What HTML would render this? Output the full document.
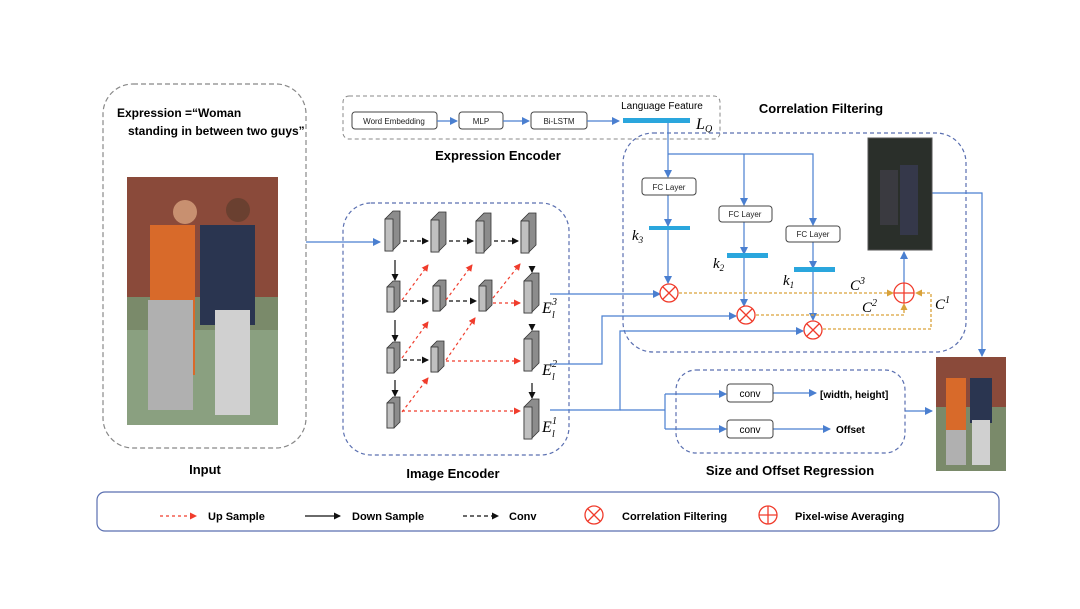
<!DOCTYPE html>
<html><head><meta charset="utf-8"><style>
body{margin:0;background:#fff;}
svg{display:block;font-family:"Liberation Sans",Arial,sans-serif;}
</style></head><body>
<svg width="1080" height="609" viewBox="0 0 1080 609" xmlns="http://www.w3.org/2000/svg">
<defs>
<marker id="ab" markerWidth="8" markerHeight="8" refX="7" refY="4" orient="auto" markerUnits="userSpaceOnUse"><path d="M0,0 L8,4 L0,8z" fill="#4a7fd0"/></marker>
<marker id="ak" markerWidth="7" markerHeight="7" refX="6" refY="3.5" orient="auto" markerUnits="userSpaceOnUse"><path d="M0,0 L7,3.5 L0,7z" fill="#111"/></marker>
<marker id="ar" markerWidth="7" markerHeight="7" refX="6" refY="3.5" orient="auto" markerUnits="userSpaceOnUse"><path d="M0,0 L7,3.5 L0,7z" fill="#f03c2c"/></marker>
<marker id="ao" markerWidth="7" markerHeight="7" refX="6" refY="3.5" orient="auto" markerUnits="userSpaceOnUse"><path d="M0,0 L7,3.5 L0,7z" fill="#d9a23a"/></marker>
<g id="blk"><path d="M0,8 L8,0 L15,0 L15,32 L7,40 L0,40z" fill="#8c8c8c" stroke="#333" stroke-width="0.8"/><rect x="0" y="8" width="8" height="32" fill="#c0c0c0" stroke="#333" stroke-width="0.8"/></g>
<g id="blks"><path d="M0,6 L6,0 L13,0 L13,25 L7,31 L0,31z" fill="#8c8c8c" stroke="#333" stroke-width="0.8"/><rect x="0" y="6" width="7" height="25" fill="#c0c0c0" stroke="#333" stroke-width="0.8"/></g>
</defs>

<!-- Input -->
<rect x="103" y="84" width="203" height="364" rx="30" fill="none" stroke="#888" stroke-width="1.2" stroke-dasharray="5,3"/>
<text x="117" y="117" font-size="12" font-weight="bold">Expression =“Woman</text>
<text x="128" y="135" font-size="12" font-weight="bold">standing in between two guys”</text>
<rect x="127" y="177" width="151" height="248" fill="#7a8a6a"/>
<rect x="127" y="177" width="151" height="120" fill="#8a4a3a"/>
<rect x="127" y="330" width="151" height="95" fill="#8aa080"/>
<rect x="150" y="225" width="45" height="150" fill="#d86a2a"/>
<rect x="200" y="225" width="55" height="100" fill="#2a3550"/>
<rect x="148" y="300" width="45" height="110" fill="#b0b0b0"/>
<rect x="215" y="310" width="35" height="105" fill="#d0d0d0"/>
<circle cx="185" cy="212" r="12" fill="#c89070"/><circle cx="238" cy="210" r="12" fill="#6a4030"/>
<text x="205" y="474" font-size="13" font-weight="bold" text-anchor="middle">Input</text>
<line x1="306" y1="242" x2="380" y2="242" stroke="#4a7fd0" stroke-width="1.3" marker-end="url(#ab)"/>

<!-- Expression encoder -->
<rect x="343" y="96" width="377" height="43" rx="6" fill="none" stroke="#888" stroke-width="1" stroke-dasharray="4,3"/>
<g font-size="8" text-anchor="middle" fill="#222">
<rect x="352" y="112" width="85" height="17" rx="3" fill="#fff" stroke="#444"/><text x="394" y="124">Word Embedding</text>
<rect x="459" y="112" width="44" height="17" rx="3" fill="#fff" stroke="#444"/><text x="481" y="124">MLP</text>
<rect x="531" y="112" width="56" height="17" rx="3" fill="#fff" stroke="#444"/><text x="559" y="124">Bi-LSTM</text>
</g>
<g stroke="#4a7fd0" stroke-width="1.2">
<line x1="437" y1="121" x2="457" y2="121" marker-end="url(#ab)"/>
<line x1="503" y1="121" x2="529" y2="121" marker-end="url(#ab)"/>
<line x1="587" y1="121" x2="619" y2="121" marker-end="url(#ab)"/>
</g>
<rect x="623" y="118" width="67" height="5" fill="#2aa6dd"/>
<text x="662" y="109" font-size="10" text-anchor="middle">Language Feature</text>
<text x="696" y="129" font-size="16" font-style="italic" font-family="Liberation Serif,serif">L</text>
<text x="705" y="132" font-size="10" font-style="italic" font-family="Liberation Serif,serif">Q</text>
<text x="498" y="160" font-size="13" font-weight="bold" text-anchor="middle">Expression Encoder</text>

<!-- Image encoder -->
<rect x="343" y="203" width="226" height="252" rx="28" fill="none" stroke="#5a6fb0" stroke-width="1.2" stroke-dasharray="4,3"/>
<use href="#blk" x="385" y="211"/><use href="#blk" x="431" y="212"/><use href="#blk" x="476" y="213"/><use href="#blk" x="521" y="213"/>
<use href="#blks" x="387" y="281"/><use href="#blks" x="433" y="280"/><use href="#blks" x="479" y="280"/>
<use href="#blk" x="524" y="273"/>
<use href="#blks" x="387" y="342"/><use href="#blks" x="431" y="341"/>
<use href="#blk" x="524" y="331"/>
<use href="#blks" x="387" y="397"/>
<use href="#blk" x="524" y="399"/>
<g stroke="#111" stroke-width="1.2" stroke-dasharray="4,3">
<line x1="403" y1="241" x2="428" y2="241" marker-end="url(#ak)"/>
<line x1="449" y1="241" x2="473" y2="241" marker-end="url(#ak)"/>
<line x1="494" y1="241" x2="518" y2="241" marker-end="url(#ak)"/>
<line x1="403" y1="301" x2="428" y2="301" marker-end="url(#ak)"/>
<line x1="449" y1="301" x2="476" y2="301" marker-end="url(#ak)"/>
<line x1="403" y1="360" x2="428" y2="360" marker-end="url(#ak)"/>
</g>
<g stroke="#111" stroke-width="1.2">
<line x1="395" y1="260" x2="395" y2="280" marker-end="url(#ak)"/>
<line x1="395" y1="320" x2="395" y2="341" marker-end="url(#ak)"/>
<line x1="395" y1="380" x2="395" y2="396" marker-end="url(#ak)"/>
<line x1="532" y1="266" x2="532" y2="272" marker-end="url(#ak)"/>
<line x1="532" y1="324" x2="532" y2="330" marker-end="url(#ak)"/>
<line x1="532" y1="383" x2="532" y2="398" marker-end="url(#ak)"/>
</g>
<g stroke="#f03c2c" stroke-width="1.2" stroke-dasharray="3,3">
<line x1="402" y1="300" x2="428" y2="265" marker-end="url(#ar)"/>
<line x1="446" y1="300" x2="472" y2="265" marker-end="url(#ar)"/>
<line x1="493" y1="298" x2="520" y2="264" marker-end="url(#ar)"/>
<line x1="402" y1="358" x2="428" y2="322" marker-end="url(#ar)"/>
<line x1="446" y1="360" x2="475" y2="318" marker-end="url(#ar)"/>
<line x1="402" y1="412" x2="428" y2="378" marker-end="url(#ar)"/>
<line x1="493" y1="303" x2="520" y2="303" marker-end="url(#ar)"/>
<line x1="446" y1="361" x2="520" y2="361" marker-end="url(#ar)"/>
<line x1="402" y1="411" x2="520" y2="411" marker-end="url(#ar)"/>
</g>
<g font-family="Liberation Serif,serif" font-style="italic">
<text x="542" y="313" font-size="16">E</text><text x="552" y="318" font-size="10">l</text><text x="552" y="305" font-size="10">3</text>
<text x="542" y="375" font-size="16">E</text><text x="552" y="380" font-size="10">l</text><text x="552" y="367" font-size="10">2</text>
<text x="542" y="432" font-size="16">E</text><text x="552" y="437" font-size="10">l</text><text x="552" y="424" font-size="10">1</text>
</g>
<text x="453" y="478" font-size="13" font-weight="bold" text-anchor="middle">Image Encoder</text>

<!-- Correlation filtering -->
<rect x="623" y="133" width="343" height="219" rx="30" fill="none" stroke="#5a6fb0" stroke-width="1.2" stroke-dasharray="4,3"/>
<text x="821" y="113" font-size="13" font-weight="bold" text-anchor="middle">Correlation Filtering</text>
<g stroke="#4a7fd0" stroke-width="1.2" fill="none">
<line x1="668" y1="123" x2="668" y2="177" marker-end="url(#ab)"/>
<polyline points="668,154 813,154 813,225" marker-end="url(#ab)"/>
<line x1="744" y1="154" x2="744" y2="205" marker-end="url(#ab)"/>
<line x1="668" y1="195" x2="668" y2="226" marker-end="url(#ab)"/>
<line x1="668" y1="229" x2="668" y2="283" marker-end="url(#ab)"/>
<line x1="744" y1="222" x2="744" y2="254" marker-end="url(#ab)"/>
<line x1="744" y1="258" x2="744" y2="306" marker-end="url(#ab)"/>
<line x1="813" y1="242" x2="813" y2="268" marker-end="url(#ab)"/>
<line x1="813" y1="272" x2="813" y2="320" marker-end="url(#ab)"/>
<line x1="904" y1="284" x2="904" y2="252" marker-end="url(#ab)"/>
<polyline points="932,193 982,193 982,356" marker-end="url(#ab)"/>
<line x1="550" y1="294" x2="660" y2="294" marker-end="url(#ab)"/>
<polyline points="550,364 602,364 602,316 736,316" marker-end="url(#ab)"/>
<polyline points="550,410 620,410 620,331 803,331" marker-end="url(#ab)"/>
<polyline points="620,410 665,410"/>
<polyline points="665,394 665,429"/>
<line x1="665" y1="394" x2="726" y2="394" marker-end="url(#ab)"/>
<line x1="665" y1="429" x2="726" y2="429" marker-end="url(#ab)"/>
<line x1="773" y1="393" x2="816" y2="393" marker-end="url(#ab)"/>
<line x1="773" y1="429" x2="830" y2="429" marker-end="url(#ab)"/>
<line x1="905" y1="411" x2="932" y2="411" marker-end="url(#ab)"/>
</g>
<g font-size="8" text-anchor="middle" fill="#222">
<rect x="642" y="178" width="54" height="17" rx="3" fill="#fff" stroke="#444"/><text x="669" y="190">FC Layer</text>
<rect x="719" y="206" width="53" height="16" rx="3" fill="#fff" stroke="#444"/><text x="745" y="217">FC Layer</text>
<rect x="786" y="226" width="54" height="16" rx="3" fill="#fff" stroke="#444"/><text x="813" y="237">FC Layer</text>
</g>
<rect x="649" y="226" width="41" height="4" fill="#2aa6dd"/>
<rect x="727" y="253" width="41" height="5" fill="#2aa6dd"/>
<rect x="794" y="267" width="41" height="5" fill="#2aa6dd"/>
<g font-family="Liberation Serif,serif" font-style="italic" font-size="15">
<text x="632" y="240">k<tspan font-size="9" dy="3">3</tspan></text>
<text x="713" y="268">k<tspan font-size="9" dy="3">2</tspan></text>
<text x="783" y="285">k<tspan font-size="9" dy="3">1</tspan></text>
<text x="850" y="290">C<tspan font-size="10" dy="-6">3</tspan></text>
<text x="862" y="312">C<tspan font-size="10" dy="-6">2</tspan></text>
<text x="935" y="309">C<tspan font-size="10" dy="-6">1</tspan></text>
</g>
<g stroke="#d9a23a" stroke-width="1.3" stroke-dasharray="3,2" fill="none">
<line x1="679" y1="293" x2="893" y2="293" marker-end="url(#ao)"/>
<polyline points="756,315 904,315 904,304" marker-end="url(#ao)"/>
<polyline points="823,329 931,329 931,293 916,293" marker-end="url(#ao)"/>
</g>
<g stroke="#f03c2c" stroke-width="1.3" fill="#fff">
<circle cx="669" cy="293" r="9"/><path d="M663,287 L675,299 M675,287 L663,299"/>
<circle cx="746" cy="315" r="9"/><path d="M740,309 L752,321 M752,309 L740,321"/>
<circle cx="813" cy="330" r="9"/><path d="M807,324 L819,336 M819,324 L807,336"/>
<circle cx="904" cy="293" r="10"/><path d="M894,293 L914,293 M904,283 L904,303"/>
</g>
<rect x="868" y="138" width="64" height="112" fill="#2a2f2a" stroke="#555"/>
<rect x="880" y="170" width="18" height="55" fill="#3a3a40"/><rect x="900" y="165" width="18" height="70" fill="#35384a"/>

<!-- Size and offset -->
<rect x="676" y="370" width="229" height="83" rx="20" fill="none" stroke="#5a6fb0" stroke-width="1.2" stroke-dasharray="4,3"/>
<g font-size="10" text-anchor="middle">
<rect x="727" y="384" width="46" height="18" rx="3" fill="#fff" stroke="#444"/><text x="750" y="397">conv</text>
<rect x="727" y="420" width="46" height="18" rx="3" fill="#fff" stroke="#444"/><text x="750" y="433">conv</text>
</g>
<text x="820" y="398" font-size="10" font-weight="bold">[width, height]</text>
<text x="836" y="433" font-size="10" font-weight="bold">Offset</text>
<text x="790" y="475" font-size="13" font-weight="bold" text-anchor="middle">Size and Offset Regression</text>
<rect x="936" y="357" width="70" height="114" fill="#7a8a6a"/>
<rect x="936" y="357" width="70" height="50" fill="#8a4a3a"/>
<rect x="946" y="378" width="20" height="60" fill="#d86a2a"/><rect x="970" y="378" width="22" height="45" fill="#2a3550"/>
<rect x="946" y="430" width="20" height="35" fill="#b0b0b0"/><rect x="972" y="420" width="18" height="45" fill="#d0d0d0"/>

<!-- Legend -->
<rect x="97" y="492" width="902" height="39" rx="8" fill="none" stroke="#5a6fb0" stroke-width="1.2"/>
<g font-size="11" font-weight="bold">
<line x1="160" y1="516" x2="196" y2="516" stroke="#f03c2c" stroke-width="1.2" stroke-dasharray="3,3" marker-end="url(#ar)"/>
<text x="208" y="520">Up Sample</text>
<line x1="305" y1="516" x2="340" y2="516" stroke="#111" stroke-width="1.2" marker-end="url(#ak)"/>
<text x="352" y="520">Down Sample</text>
<line x1="463" y1="516" x2="498" y2="516" stroke="#111" stroke-width="1.2" stroke-dasharray="4,3" marker-end="url(#ak)"/>
<text x="509" y="520">Conv</text>
<g stroke="#f03c2c" stroke-width="1.3" fill="#fff">
<circle cx="594" cy="515" r="9"/><path d="M588,509 L600,521 M600,509 L588,521"/>
<circle cx="768" cy="515" r="9"/><path d="M759,515 L777,515 M768,506 L768,524"/>
</g>
<text x="622" y="520">Correlation Filtering</text>
<text x="795" y="520">Pixel-wise Averaging</text>
</g>
</svg>
</body></html>
